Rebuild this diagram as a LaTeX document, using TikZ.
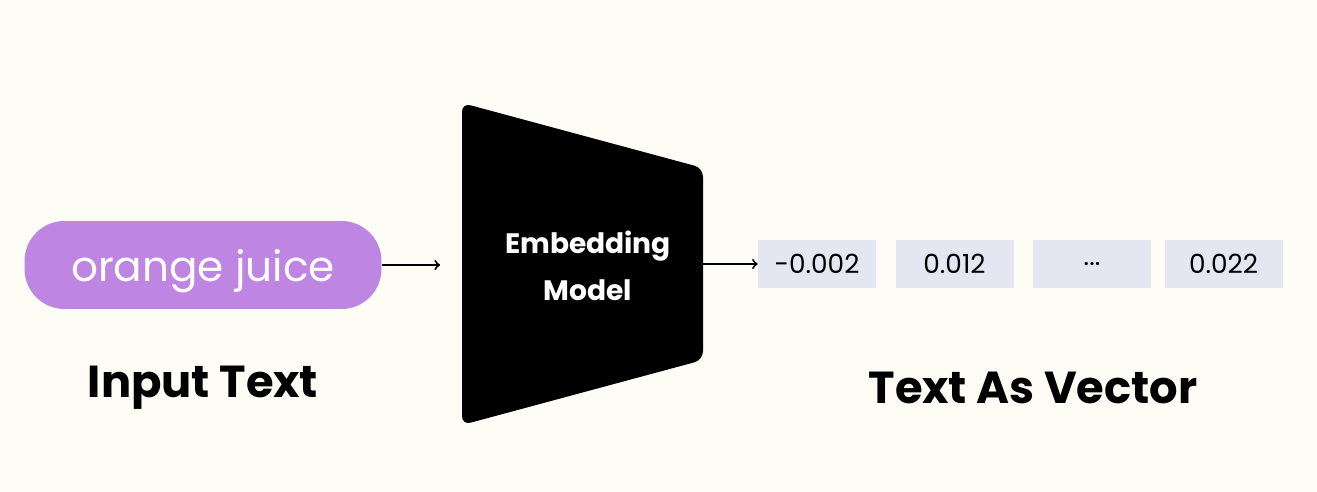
\documentclass[tikz,border=0pt]{standalone}
\usepackage{fontspec}
\setmainfont{Poppins}
\usetikzlibrary{positioning}
\definecolor{bgcream}{HTML}{FDFDF5}
\definecolor{pillpurple}{HTML}{BF85E3}
\definecolor{vecgray}{HTML}{E4E6F2}

\begin{document}
\begin{tikzpicture}[x=0.02cm, y=-0.02cm,
    vecbox/.style={fill=vecgray, inner sep=0pt, minimum width=2.36cm, minimum height=0.98cm,
                   font=\fontsize{15}{17}\selectfont},
    title/.style={font=\bfseries\fontsize{25.5}{30}\selectfont},
    flow/.style={->, line width=1.1pt}]
    % Draw background
    \fill[bgcream] (0,0) rectangle (1317,492);

    % Draw input text
    \node[fill=pillpurple, text=white, rounded corners=0.8cm, minimum width=7.14cm, minimum height=1.76cm,
          text depth=0pt, font=\fontsize{24}{28}\selectfont] (input) at (203,265) {orange juice};
    \node[title] (inlabel) at (203,388) {Input Text};

    % Draw embedding model
    \fill[black, rounded corners=5pt] (462,103) -- (703,168) -- (703,360) -- (462,425) -- cycle;
    \node[text=white, align=center, font=\bfseries\fontsize{16}{27}\selectfont] (model) at (588,266) {Embedding\\Model};
    \coordinate (mleft) at (440,265);
    \coordinate (mright) at (703,264);

    % Draw vector
    \node[vecbox] (v1) at (817,264) {-0.002};
    \node[vecbox] (v2) at (954.5,264) {0.012};
    \node[vecbox] (v3) at (1092,264) {...};
    \node[vecbox] (v4) at (1223.5,264) {0.022};
    \node[title] (outlabel) at (1033,388) {Text As Vector};

    % Draw arrows
    \draw[flow] (input.east) -- (mleft);
    \draw[flow] (mright) -- (v1.west);
\end{tikzpicture}
\end{document}
